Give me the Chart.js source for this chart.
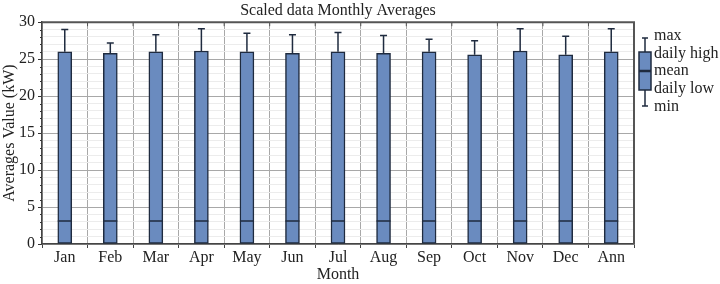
<!DOCTYPE html>
<html lang="en">
<head>
    <meta charset="UTF-8">
    <title>Scaled data Monthly Averages</title>
    <script src="https://cdn.jsdelivr.net/npm/chart.js"></script>
    <style>
        html, body { margin: 0; padding: 0; background: #fff; }
        #wrap { width: 720px; height: 284px; }
    </style>
</head>
<body>
    <div id="wrap"><canvas id="grafico"></canvas></div>

    <script>
        // valores
        const meses = ['Jan', 'Feb', 'Mar', 'Apr', 'May', 'Jun', 'Jul', 'Aug', 'Sep', 'Oct', 'Nov', 'Dec', 'Ann'];
        const minimo = [0, 0, 0, 0, 0, 0, 0, 0, 0, 0, 0, 0, 0];
        const baixa = [0, 0, 0, 0, 0, 0, 0, 0, 0, 0, 0, 0, 0];
        const media = [3.1, 3.1, 3.1, 3.1, 3.1, 3.1, 3.1, 3.1, 3.1, 3.1, 3.1, 3.1, 3.1];
        const alta = [26.0, 25.8, 26.0, 26.1, 26.0, 25.8, 26.0, 25.8, 26.0, 25.6, 26.1, 25.6, 26.0];
        const maximo = [29.0, 27.2, 28.3, 29.1, 28.5, 28.3, 28.6, 28.2, 27.7, 27.5, 29.1, 28.1, 29.1];
        const legendaTextos = ['max', 'daily high', 'mean', 'daily low', 'min'];

        const fonte = 'Liberation Serif, Times New Roman, serif';
        const corCaixa = '#6a8bbf';
        const corBorda = '#1f2b3f';

        // whiskers, mean line, borders and legend
        const extras = {
            id: 'extras',
            afterDatasetsDraw(chart) {
                const ctx = chart.ctx;
                const x = chart.scales.x;
                const y = chart.scales.y;
                const area = chart.chartArea;
                const meia = 7;
                ctx.save();
                ctx.strokeStyle = corBorda;
                ctx.lineWidth = 1.5;
                for (let i = 0; i < meses.length; i++) {
                    const cx = x.getPixelForValue(i);
                    ctx.beginPath();
                    ctx.moveTo(cx, y.getPixelForValue(alta[i]));
                    ctx.lineTo(cx, y.getPixelForValue(maximo[i]));
                    ctx.moveTo(cx - 3.5, y.getPixelForValue(maximo[i]));
                    ctx.lineTo(cx + 3.5, y.getPixelForValue(maximo[i]));
                    ctx.moveTo(cx, y.getPixelForValue(baixa[i]));
                    ctx.lineTo(cx, y.getPixelForValue(minimo[i]));
                    ctx.moveTo(cx - meia, y.getPixelForValue(media[i]));
                    ctx.lineTo(cx + meia, y.getPixelForValue(media[i]));
                    ctx.stroke();
                }

                // borda de cima e da direita
                ctx.strokeStyle = '#555';
                ctx.lineWidth = 2;
                ctx.beginPath();
                ctx.moveTo(area.left, area.top);
                ctx.lineTo(area.right, area.top);
                ctx.lineTo(area.right, area.bottom);
                ctx.stroke();

                // marcas na borda de cima
                ctx.lineWidth = 1;
                ctx.beginPath();
                for (let i = 1; i < meses.length; i++) {
                    const bx = (x.getPixelForValue(i - 1) + x.getPixelForValue(i)) / 2;
                    ctx.moveTo(bx, area.top);
                    ctx.lineTo(bx, area.top + 4);
                }
                ctx.stroke();

                // marcas menores no eixo y
                ctx.strokeStyle = '#333';
                ctx.beginPath();
                for (let v = 0; v <= 30; v++) {
                    if (v % 5 === 0) continue;
                    const py = Math.round(y.getPixelForValue(v)) + 0.5;
                    ctx.moveTo(area.left - 2, py);
                    ctx.lineTo(area.left, py);
                }
                ctx.stroke();

                // legenda
                const lx = 645;
                ctx.fillStyle = corCaixa;
                ctx.fillRect(639, 52, 12, 38);
                ctx.strokeStyle = corBorda;
                ctx.lineWidth = 1.5;
                ctx.strokeRect(639, 52, 12, 38);
                ctx.beginPath();
                ctx.moveTo(lx, 52); ctx.lineTo(lx, 38);
                ctx.moveTo(lx - 3, 38); ctx.lineTo(lx + 3, 38);
                ctx.moveTo(lx, 90); ctx.lineTo(lx, 106);
                ctx.moveTo(lx - 3, 106); ctx.lineTo(lx + 3, 106);
                ctx.stroke();
                ctx.lineWidth = 2.5;
                ctx.beginPath();
                ctx.moveTo(639, 71); ctx.lineTo(651, 71);
                ctx.stroke();
                ctx.fillStyle = '#222';
                ctx.font = '16px ' + fonte;
                ctx.textBaseline = 'middle';
                const ys = [36, 54, 71, 89, 107];
                legendaTextos.forEach((t, k) => ctx.fillText(t, 654, ys[k]));
                ctx.restore();
            }
        };

        new Chart(document.getElementById('grafico'), {
            type: 'bar',
            data: {
                labels: meses,
                datasets: [{
                    data: meses.map((m, i) => [baixa[i], alta[i]]),
                    backgroundColor: corCaixa,
                    borderColor: corBorda,
                    borderWidth: 1.5,
                    borderSkipped: false,
                    barThickness: 14
                }]
            },
            options: {
                responsive: true,
                maintainAspectRatio: false,
                animation: false,
                layout: { padding: { right: 86, left: 0, top: 0, bottom: 0 } },
                plugins: {
                    legend: { display: false },
                    tooltip: { enabled: false },
                    title: {
                        display: true,
                        text: 'Scaled data Monthly Averages',
                        fullSize: false,
                        color: '#222',
                        font: { family: fonte, size: 16, weight: 'normal' },
                        padding: { top: 1, bottom: 2 }
                    }
                },
                scales: {
                    x: {
                        grid: { color: '#a8a8a8', tickLength: 4, tickColor: '#444', lineWidth: 1 },
                        border: { color: '#444', width: 1.5 },
                        ticks: { color: '#222', font: { family: fonte, size: 16 }, padding: 0, maxRotation: 0 },
                        title: {
                            display: true, text: 'Month', color: '#222',
                            font: { family: fonte, size: 16 }, padding: { top: -3, bottom: 0 }
                        },
                        afterFit(s) { s.height = 40; }
                    },
                    y: {
                        min: 0,
                        max: 30,
                        ticks: {
                            stepSize: 1,
                            autoSkip: false,
                            color: '#222',
                            font: { family: fonte, size: 16 },
                            padding: 3,
                            callback: v => (v % 5 === 0 ? v : '')
                        },
                        grid: {
                            tickLength: 4,
                            color: c => (c.tick.value % 5 === 0 ? '#a8a8a8' : '#ececec'),
                            tickColor: c => (c.tick.value % 5 === 0 ? '#333' : 'rgba(0,0,0,0)')
                        },
                        border: { color: '#444', width: 1.5 },
                        title: {
                            display: true, text: 'Averages Value (kW)', color: '#222',
                            font: { family: fonte, size: 16 }, padding: { top: 0, bottom: 0 }
                        },
                        afterFit(s) { s.width = 42; }
                    }
                }
            },
            plugins: [extras]
        });
    </script>
</body>
</html>
